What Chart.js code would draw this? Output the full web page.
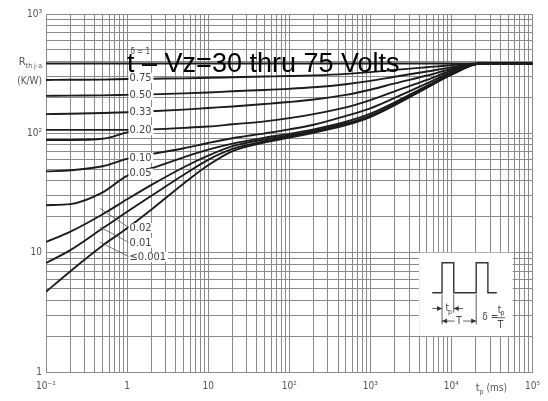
<!DOCTYPE html>
<html>
<head>
<meta charset="utf-8">
<script src="https://cdn.jsdelivr.net/npm/chart.js@4.4.0/dist/chart.umd.min.js"></script>
<style>
  html, body { margin: 0; padding: 0; background: #fff; }
  #wrap { width: 548px; height: 401px; }
</style>
</head>
<body>
<div id="wrap"><canvas id="chart"></canvas></div>
<script>
// pulse duration tp (ms) where the curves were read
const pulseTimes = [0.1, 0.2, 0.5, 1, 2, 5, 10, 20, 50, 100, 200, 500, 1000, 2000, 5000, 10000, 23000, 100000]

// thermal impedance (K/W) per duty cycle
const zDuty100 = [385, 385, 385, 385, 385, 385, 385, 385, 385, 385, 385, 385, 385, 385, 385, 385, 385, 385]
const zDuty075 = [280, 281, 282, 285, 287, 289, 292, 295, 299, 302, 306, 315, 326, 340, 358, 372, 385, 385]
const zDuty050 = [206, 207, 208, 210, 212, 216, 220, 225, 231, 236, 243, 258, 275, 298, 330, 357, 385, 385]
const zDuty033 = [145, 146, 148, 150, 153, 158, 163, 168, 176, 183, 192, 210, 232, 262, 305, 346, 385, 385]
const zDuty020 = [107, 107, 107, 107, 108, 111, 114, 119, 126, 134, 145, 165, 190, 225, 280, 336, 385, 385]
const zDuty010 = [48, 49, 53, 61, 67, 75, 83, 91, 100, 108, 118, 140, 162, 198, 262, 325, 385, 385]
const zDuty005 = [25, 25.5, 32, 44, 51, 63, 73, 82, 92, 99, 108, 125, 146, 182, 250, 316, 385, 385]
const zDuty002 = [12.3, 15, 21, 28, 37, 52, 65, 78, 89, 96, 105, 121, 141, 176, 245, 313, 385, 385]
const zDuty001 = [8.2, 10.5, 16, 22, 30, 45, 60, 74, 86, 94, 103, 119, 139, 174, 243, 311, 385, 385]
const zSingle = [4.7, 7, 11.5, 16, 23, 38, 54, 71, 84, 92, 101, 117, 137, 172, 241, 310, 385, 385]

// short branch under the 0.20 curve on the left
const branchTimes = [0.1, 0.2, 0.5, 1, 1.4]
const branchValues = [88, 88, 90, 102, 107]

const dutyLabels = ['δ = 1', '0.75', '0.50', '0.33', '0.20', '0.10', '0.05', '0.02', '0.01', '≤0.001']
// where each label sits (tp, Z)
const labelAt = [[1.1, 480], [1.07, 292], [1.07, 210], [1.07, 151], [1.07, 106], [1.07, 62], [1.07, 46], [1.07, 16.1], [1.07, 12.1], [1.07, 9.2]]
// leader lines for the lowest three curves: from (tp, Z) on the curve to the label
const leaderFrom = [[0.46, 23.6], [0.46, 16.4], [0.46, 12.3]]

const xTickValues = [0.1, 0.2, 0.3, 0.4, 0.5, 0.6, 0.7, 0.8, 0.9, 1, 2, 3, 4, 5, 6, 7, 8, 9, 10, 20, 30, 40, 50, 60, 70, 80, 90,
    100, 200, 300, 400, 500, 600, 700, 800, 900, 1000, 2000, 3000, 4000, 5000, 6000, 7000, 8000, 9000,
    10000, 20000, 30000, 40000, 50000, 60000, 70000, 80000, 90000, 100000]
const xTickLabels = {0.1: '10⁻¹', 1: '1', 10: '10', 100: '10²', 1000: '10³', 10000: '10⁴', 100000: '10⁵'}
const yTickValues = [1, 2, 3, 4, 5, 6, 7, 8, 9, 10, 20, 30, 40, 50, 60, 70, 80, 90, 100, 200, 300, 400, 500, 600, 700, 800, 900, 1000]
const yTickLabels = {1: '1', 10: '10', 100: '10²', 1000: '10³'}

const curveSets = [zDuty100, zDuty075, zDuty050, zDuty033, zDuty020, zDuty010, zDuty005, zDuty002, zDuty001, zSingle]

const LINE = '#1c1c1c'
const GRID = '#8a8a8a'
const TEXT = '#555'
const NARROW = "'Liberation Sans Narrow', 'Arial Narrow', 'DejaVu Sans Condensed', 'Liberation Sans', sans-serif"

const toPoints = (xs, ys) => xs.map((x, i) => ({x: x, y: ys[i]}))

const datasets = curveSets.map((vals, i) => ({
    label: dutyLabels[i],
    data: toPoints(pulseTimes, vals),
    borderColor: LINE,
    borderWidth: 1.9,
    pointRadius: 0,
    cubicInterpolationMode: 'monotone',
    fill: false
}))
datasets.push({
    label: 'branch',
    data: toPoints(branchTimes, branchValues),
    borderColor: LINE,
    borderWidth: 1.9,
    pointRadius: 0,
    cubicInterpolationMode: 'monotone',
    fill: false
})

const annotations = {
    id: 'annotations',
    afterDatasetsDraw(chart) {
        const {ctx, chartArea} = chart
        const xs = chart.scales.x
        const ys = chart.scales.y
        const px = v => xs.getPixelForValue(v)
        const py = v => ys.getPixelForValue(v)
        ctx.save()

        // leader lines
        ctx.strokeStyle = '#555'
        ctx.lineWidth = 0.8
        leaderFrom.forEach((p, i) => {
            const to = labelAt[7 + i]
            ctx.beginPath()
            ctx.moveTo(px(p[0]), py(p[1]))
            ctx.lineTo(px(to[0]), py(to[1]))
            ctx.stroke()
        })

        // duty cycle labels on a white patch
        dutyLabels.forEach((txt, i) => {
            const small = i === 0
            ctx.font = (small ? '8px ' : '11px ') + NARROW
            ctx.textBaseline = 'middle'
            ctx.textAlign = 'left'
            const x = px(labelAt[i][0])
            const y = py(labelAt[i][1])
            const w = ctx.measureText(txt).width
            ctx.fillStyle = '#fff'
            if (!small) ctx.fillRect(x - 1, y - 5, w + 3, 10)
            ctx.fillStyle = '#444'
            ctx.fillText(txt, x, y)
        })

        // overlay title
        ctx.font = "27px 'Liberation Sans', Arial, sans-serif"
        ctx.fillStyle = '#000'
        ctx.textAlign = 'left'
        ctx.textBaseline = 'alphabetic'
        ctx.fillText('t – Vz=30 thru 75 Volts', px(1), py(327))

        // inset with the pulse train
        const bx0 = px(4000), bx1 = px(57000), by0 = py(10), by1 = py(2)
        const bw = bx1 - bx0, bh = by1 - by0
        ctx.fillStyle = '#fff'
        ctx.fillRect(bx0, by0, bw, bh)
        const fx = f => bx0 + f * bw
        const fy = f => by0 + f * bh
        ctx.strokeStyle = '#333'
        ctx.lineWidth = 1.4
        ctx.beginPath()
        ctx.moveTo(fx(0.14), fy(0.48))
        ctx.lineTo(fx(0.245), fy(0.48))
        ctx.lineTo(fx(0.245), fy(0.12))
        ctx.lineTo(fx(0.37), fy(0.12))
        ctx.lineTo(fx(0.37), fy(0.48))
        ctx.lineTo(fx(0.61), fy(0.48))
        ctx.lineTo(fx(0.61), fy(0.12))
        ctx.lineTo(fx(0.735), fy(0.12))
        ctx.lineTo(fx(0.735), fy(0.48))
        ctx.lineTo(fx(0.83), fy(0.48))
        ctx.stroke()

        ctx.lineWidth = 0.8
        ctx.beginPath()
        ctx.moveTo(fx(0.245), fy(0.5)); ctx.lineTo(fx(0.245), fy(0.86))
        ctx.moveTo(fx(0.37), fy(0.5)); ctx.lineTo(fx(0.37), fy(0.72))
        ctx.moveTo(fx(0.61), fy(0.5)); ctx.lineTo(fx(0.61), fy(0.86))
        // tp arrows
        ctx.moveTo(fx(0.14), fy(0.67)); ctx.lineTo(fx(0.245), fy(0.67))
        ctx.moveTo(fx(0.37), fy(0.67)); ctx.lineTo(fx(0.47), fy(0.67))
        // T arrows
        ctx.moveTo(fx(0.245), fy(0.82)); ctx.lineTo(fx(0.38), fy(0.82))
        ctx.moveTo(fx(0.47), fy(0.82)); ctx.lineTo(fx(0.61), fy(0.82))
        ctx.stroke()
        const head = (x, y, dir) => {
            ctx.beginPath()
            ctx.moveTo(x, y)
            ctx.lineTo(x - dir * 5, y - 2.5)
            ctx.lineTo(x - dir * 5, y + 2.5)
            ctx.closePath()
            ctx.fillStyle = '#333'
            ctx.fill()
        }
        head(fx(0.245), fy(0.67), 1)
        head(fx(0.37), fy(0.67), -1)
        head(fx(0.245), fy(0.82), -1)
        head(fx(0.61), fy(0.82), 1)

        ctx.fillStyle = '#444'
        ctx.textBaseline = 'middle'
        ctx.textAlign = 'center'
        ctx.font = '10px ' + NARROW
        ctx.fillText('t', fx(0.3), fy(0.67))
        ctx.fillText('T', fx(0.425), fy(0.82))
        ctx.font = '7px ' + NARROW
        ctx.fillText('p', fx(0.33), fy(0.71))
        ctx.font = '10px ' + NARROW
        ctx.fillText('δ =', fx(0.76), fy(0.78))
        ctx.fillText('t', fx(0.86), fy(0.69))
        ctx.font = '7px ' + NARROW
        ctx.fillText('p', fx(0.89), fy(0.72))
        ctx.font = '10px ' + NARROW
        ctx.fillText('T', fx(0.87), fy(0.87))
        ctx.lineWidth = 0.8
        ctx.strokeStyle = '#444'
        ctx.beginPath()
        ctx.moveTo(fx(0.82), fy(0.78)); ctx.lineTo(fx(0.92), fy(0.78))
        ctx.stroke()

        // axis titles
        ctx.fillStyle = TEXT
        ctx.textAlign = 'right'
        ctx.textBaseline = 'middle'
        const ry = py(385)
        ctx.font = '7px ' + NARROW
        const sub = 'th j-a'
        const subW = ctx.measureText(sub).width
        ctx.fillText(sub, chartArea.left - 4, ry + 3)
        ctx.font = '11px ' + NARROW
        ctx.fillText('R', chartArea.left - 4 - subW, ry - 1)
        ctx.font = '10px ' + NARROW
        ctx.fillText('(K/W)', chartArea.left - 4, py(270))

        const ty = chartArea.bottom + 16
        const tx = px(9000) + 28
        ctx.textAlign = 'left'
        ctx.font = '11px ' + NARROW
        ctx.fillText('t', tx, ty)
        const tw = ctx.measureText('t').width
        ctx.font = '7px ' + NARROW
        ctx.fillText('p', tx + tw, ty + 4)
        ctx.font = '10px ' + NARROW
        ctx.fillText('(ms)', tx + tw + 7, ty)
        ctx.restore()
    }
}

new Chart(document.getElementById('chart'), {
    type: 'line',
    data: {datasets: datasets},
    options: {
        responsive: true,
        maintainAspectRatio: false,
        animation: false,
        devicePixelRatio: 1,
        layout: {padding: {top: 14, right: 12, left: 0, bottom: 0}},
        plugins: {legend: {display: false}, tooltip: {enabled: false}},
        scales: {
            x: {
                type: 'logarithmic',
                min: 0.1,
                max: 100000,
                afterBuildTicks: scale => { scale.ticks = xTickValues.map(v => ({value: v})) },
                afterFit: scale => { scale.height = 29 },
                grid: {color: GRID, lineWidth: 1, drawTicks: false},
                border: {color: GRID},
                ticks: {
                    autoSkip: false,
                    maxRotation: 0,
                    padding: 8,
                    color: TEXT,
                    font: {size: 10, family: NARROW},
                    callback: v => xTickLabels[v] || ''
                }
            },
            y: {
                type: 'logarithmic',
                min: 1,
                max: 1000,
                afterBuildTicks: scale => { scale.ticks = yTickValues.map(v => ({value: v})) },
                afterFit: scale => { scale.width = 46 },
                grid: {color: GRID, lineWidth: 1, drawTicks: false},
                border: {color: GRID},
                ticks: {
                    autoSkip: false,
                    padding: 4,
                    color: TEXT,
                    font: {size: 10, family: NARROW},
                    callback: v => yTickLabels[v] || ''
                }
            }
        }
    },
    plugins: [annotations]
})
</script>
</body>
</html>
